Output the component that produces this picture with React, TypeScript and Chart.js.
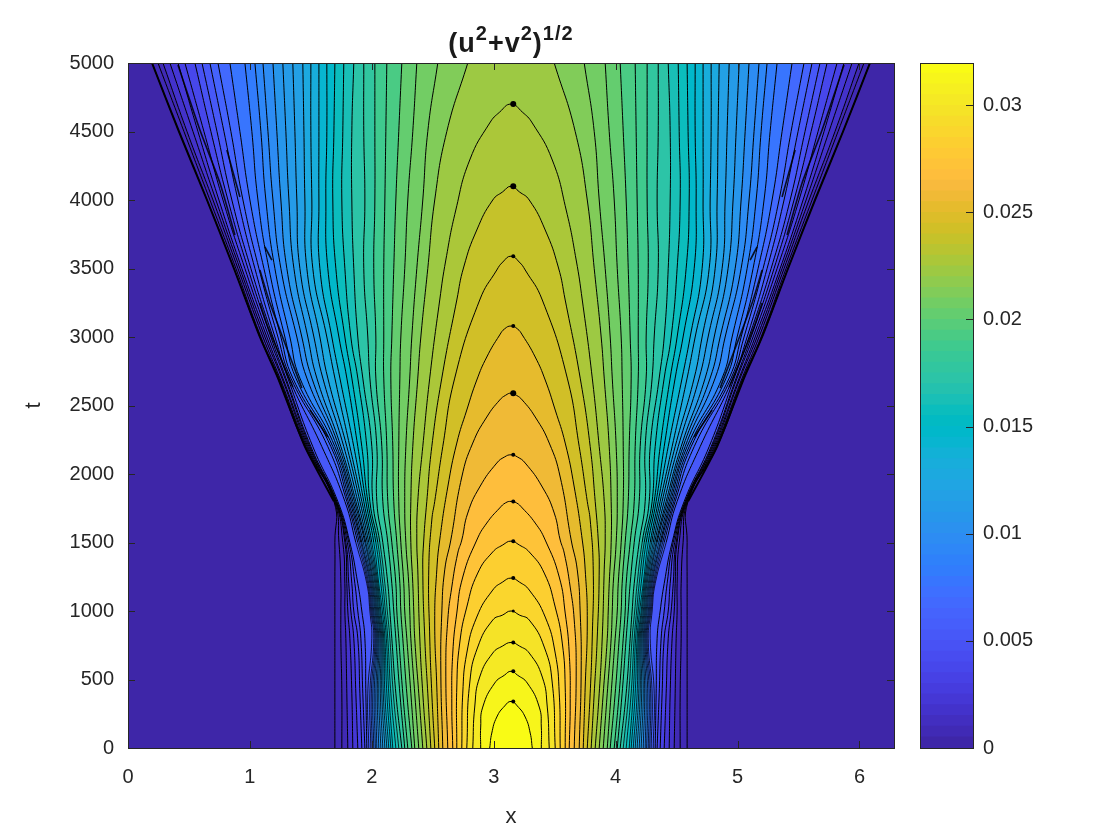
import React, { useEffect, useRef } from "react";
import { Chart, registerables } from "chart.js";

Chart.register(...registerables);

const FONT = '"Liberation Sans", Arial, sans-serif';
const INK = "#262626";
const X_MAX = 6.2832;
const T_MAX = 5000;
const C_MAX = 0.03196;

// Parula, 64 steps (value range of the colour bar)
const parula = [
  [62,38,168],[64,42,181],[66,46,192],[67,50,203],[69,55,213],[70,60,222],[71,65,229],[71,71,235],
  [72,76,240],[72,82,244],[71,88,248],[70,94,251],[69,99,253],[66,105,254],[62,111,255],[56,117,254],
  [50,124,252],[47,129,250],[46,135,247],[45,140,243],[43,145,239],[39,150,235],[37,155,232],[35,160,229],
  [32,165,227],[28,169,223],[24,173,219],[18,177,214],[8,181,208],[1,184,202],[2,186,195],[11,189,189],
  [25,191,182],[36,193,174],[44,196,167],[49,198,159],[55,200,151],[63,202,142],[74,203,132],[87,204,122],
  [100,205,111],[114,205,100],[129,204,89],[143,203,78],[157,201,67],[171,199,57],[185,196,49],[197,194,42],
  [209,191,39],[220,189,41],[230,187,45],[240,186,54],[248,186,61],[254,190,60],[254,195,56],[254,201,52],
  [252,207,48],[250,214,45],[247,220,42],[245,227,39],[245,233,36],[246,239,32],[247,245,27],[249,251,21],
];

// Left crossing x of contour levels 1..31 at fixed times
const rowTimes = [0, 400, 800, 1000, 1200, 1500, 1800, 2200, 2700, 3000, 3500, 4000, 4500, 5000];
const xAt0000 = [1.697,1.754,1.803,1.844,1.885,1.918,1.943,1.959,1.975,1.992,2.004,2.016,2.029,2.041,2.057,2.074,2.090,2.107,2.123,2.139,2.156,2.172,2.197,2.221,2.246,2.270,2.295,2.328,2.352,2.385,2.418];
const xAt0400 = [1.697,1.754,1.795,1.836,1.869,1.902,1.926,1.951,1.967,1.984,1.996,2.008,2.020,2.033,2.045,2.057,2.070,2.082,2.094,2.107,2.123,2.139,2.156,2.176,2.197,2.230,2.254,2.287,2.320,2.352,2.385];
const xAt0800 = [1.697,1.746,1.787,1.820,1.852,1.885,1.910,1.943,2.000,2.016,2.025,2.033,2.041,2.049,2.057,2.066,2.074,2.082,2.090,2.098,2.107,2.119,2.131,2.148,2.164,2.197,2.221,2.254,2.287,2.320,2.352];
const xAt1000 = [1.697,1.746,1.779,1.803,1.828,1.852,1.885,1.918,1.984,1.992,2.000,2.008,2.016,2.025,2.033,2.041,2.049,2.057,2.066,2.074,2.086,2.098,2.111,2.127,2.148,2.180,2.205,2.238,2.270,2.311,2.344];
const xAt1200 = [1.697,1.746,1.779,1.795,1.811,1.836,1.861,1.885,1.959,1.967,1.975,1.984,1.992,2.000,2.008,2.016,2.025,2.033,2.041,2.049,2.057,2.074,2.090,2.107,2.131,2.164,2.197,2.230,2.262,2.303,2.336];
const xAt1500 = [1.697,1.730,1.762,1.779,1.787,1.799,1.811,1.820,1.869,1.885,1.898,1.910,1.918,1.930,1.943,1.951,1.963,1.975,1.988,2.000,2.016,2.033,2.049,2.066,2.090,2.131,2.164,2.205,2.238,2.279,2.320];
const xAt1800 = [1.689,1.693,1.697,1.701,1.705,1.709,1.713,1.721,1.779,1.795,1.807,1.820,1.832,1.844,1.857,1.869,1.885,1.902,1.918,1.934,1.951,1.967,1.984,2.008,2.041,2.090,2.131,2.180,2.221,2.270,2.320];
const xAt2200 = [1.451,1.459,1.467,1.475,1.484,1.492,1.500,1.516,1.590,1.639,1.664,1.680,1.697,1.713,1.730,1.746,1.770,1.795,1.820,1.852,1.885,1.918,1.959,2.000,2.041,2.082,2.123,2.172,2.221,2.279,2.336];
const xAt2700 = [1.230,1.238,1.246,1.262,1.270,1.287,1.295,1.311,1.320,1.336,1.352,1.377,1.410,1.467,1.508,1.549,1.598,1.639,1.697,1.738,1.795,1.836,1.885,1.926,1.984,2.033,2.098,2.156,2.230,2.311,2.377];
const xAt3000 = [1.082,1.090,1.107,1.123,1.139,1.156,1.172,1.189,1.205,1.230,1.254,1.287,1.328,1.385,1.426,1.475,1.525,1.574,1.631,1.672,1.730,1.779,1.828,1.885,1.967,2.033,2.098,2.164,2.238,2.328,2.402];
const xAt3500 = [0.869,0.885,0.902,0.918,0.934,0.959,0.984,1.008,1.041,1.074,1.115,1.156,1.205,1.254,1.303,1.361,1.410,1.467,1.516,1.574,1.639,1.705,1.779,1.852,1.934,2.016,2.098,2.180,2.270,2.369,2.459];
const xAt4000 = [0.648,0.672,0.697,0.721,0.746,0.779,0.820,0.852,0.902,0.943,1.000,1.066,1.131,1.189,1.254,1.320,1.385,1.451,1.508,1.566,1.623,1.680,1.754,1.836,1.943,2.025,2.107,2.197,2.295,2.418,2.516];
const xAt4500 = [0.418,0.459,0.484,0.533,0.574,0.623,0.680,0.730,0.787,0.844,0.918,1.016,1.090,1.148,1.221,1.295,1.369,1.443,1.500,1.566,1.631,1.689,1.762,1.836,1.934,2.025,2.115,2.221,2.336,2.459,2.615];
const xAt5000 = [0.197,0.246,0.287,0.344,0.410,0.467,0.549,0.607,0.672,0.738,0.836,0.959,1.041,1.107,1.189,1.270,1.352,1.434,1.500,1.566,1.631,1.697,1.770,1.852,1.934,2.025,2.123,2.246,2.369,2.541,2.787];
const rows = [xAt0000, xAt0400, xAt0800, xAt1000, xAt1200, xAt1500, xAt1800, xAt2200, xAt2700, xAt3000, xAt3500, xAt4000, xAt4500, xAt5000];

// Closed contours (levels 32..44): left branch from t = 0 up to the crest
const arch32T = [0,400,810,1300,1518,1800,2200,2700,3270,3562,3927,4292,4562,4642,4700];
const arch32X = [2.451,2.418,2.393,2.377,2.369,2.377,2.418,2.475,2.557,2.607,2.689,2.803,2.967,3.049,3.142];
const arch33T = [0,400,810,1300,1518,1800,2200,2700,3270,3511,3781,4000,4060,4100];
const arch33X = [2.484,2.459,2.434,2.418,2.426,2.451,2.492,2.574,2.697,2.754,2.861,2.992,3.074,3.142];
const arch34T = [0,400,810,1300,1664,1800,2200,2700,3270,3489,3547,3590];
const arch34X = [2.516,2.492,2.475,2.467,2.492,2.516,2.582,2.680,2.885,3.025,3.074,3.142];
const arch35T = [0,445,934,1300,1518,1905,2226,2467,2686,2854,3015,3060,3080];
const arch35X = [2.549,2.533,2.516,2.533,2.557,2.623,2.697,2.779,2.861,2.943,3.049,3.090,3.142];
const arch36T = [0,569,985,1300,1518,1978,2226,2416,2540,2575,2590];
const arch36X = [2.582,2.566,2.574,2.598,2.648,2.738,2.828,2.943,3.049,3.098,3.142];
const arch37T = [0,569,934,1175,1423,1518,1715,1905,2080,2125,2140];
const arch37X = [2.623,2.607,2.623,2.656,2.705,2.738,2.787,2.885,3.025,3.090,3.142];
const arch38T = [0,328,693,985,1248,1518,1642,1752,1790,1800];
const arch38X = [2.664,2.656,2.664,2.697,2.746,2.861,2.943,3.049,3.098,3.142];
const arch39T = [0,445,766,1029,1277,1431,1482,1510];
const arch39X = [2.697,2.697,2.721,2.779,2.869,2.992,3.074,3.142];
const arch40T = [0,401,693,956,1153,1212,1240];
const arch40X = [2.738,2.746,2.779,2.861,2.992,3.074,3.142];
const arch41T = [0,474,737,934,971,1000];
const arch41X = [2.779,2.803,2.869,2.992,3.074,3.142];
const arch42T = [0,299,518,693,745,770];
const arch42X = [2.828,2.844,2.885,2.992,3.074,3.142];
const arch43T = [0,153,299,474,533,560];
const arch43X = [2.893,2.893,2.910,3.008,3.090,3.142];
const arch44T = [0,109,226,307,340];
const arch44X = [2.967,2.984,3.025,3.090,3.142];
const archTs = [arch32T, arch33T, arch34T, arch35T, arch36T, arch37T, arch38T, arch39T, arch40T, arch41T, arch42T, arch43T, arch44T];
const archXs = [arch32X, arch33X, arch34X, arch35X, arch36X, arch37X, arch38X, arch39X, arch40X, arch41X, arch42X, arch43X, arch44X];

const crestTimes = [4700, 4100, 3590, 3080, 2590, 2140, 1800, 1510, 1240, 1000, 770, 560, 340];
const crestDotSizes = [3, 3, 2, 2, 3, 2, 2, 2, 2, 1.5, 2, 2, 2];

// Short noisy contour fragments next to the front (left side, mirrored on the right)
const streak1T = [3657, 3562];
const streak1X = [1.123, 1.180];
const streak2T = [3489, 3248, 2628];
const streak2X = [1.082, 1.164, 1.426];
const streak3T = [3248, 3073, 2635];
const streak3X = [1.082, 1.148, 1.352];
const streak4T = [2467, 2270];
const streak4X = [1.492, 1.639];
const streak5T = [4985, 4511, 4124, 3745];
const streak5X = [0.410, 0.590, 0.754, 0.877];
const streak6T = [4365, 4022];
const streak6X = [0.811, 0.918];
const streakTs = [streak1T, streak2T, streak3T, streak4T, streak5T, streak6T];
const streakXs = [streak1X, streak2X, streak3X, streak4X, streak5X, streak6X];

const CENTER = 3.1416;
const LEVELS = 44;

type Pt = { x: number; y: number };

function leftBranch(level: number): Pt[] {
  if (level <= 31) return rowTimes.map((t, r) => ({ x: rows[r][level - 1], y: t }));
  const i = level - 32;
  return archTs[i].map((t, j) => ({ x: archXs[i][j], y: t }));
}

const mirror = (pts: Pt[]) => pts.map((p) => ({ x: 2 * CENTER - p.x, y: p.y })).reverse();

function buildDatasets() {
  const ds: any[] = [];
  ds.push({
    data: [{ x: 0, y: 0 }, { x: 0, y: T_MAX }, { x: X_MAX, y: T_MAX }, { x: X_MAX, y: 0 }],
    backgroundColor: `rgb(${parula[0].join(",")})`,
    borderWidth: 0, fill: "shape", pointRadius: 0, tension: 0, order: 1000,
  });
  for (let k = 1; k <= LEVELS; k++) {
    const left = leftBranch(k);
    const closed = k > 31;
    const rightPts = mirror(closed ? left.slice(0, -1) : left);
    const idx = Math.max(1, Math.round(((k - 1) * 63) / (LEVELS - 1)));
    // Repeating the two corner vertices keeps the spline from bulging across the top edge
    const corners = closed ? [] : [left[left.length - 1], rightPts[0]];
    ds.push({
      data: [...left, ...corners, ...rightPts],
      backgroundColor: `rgb(${parula[idx].join(",")})`,
      borderWidth: 0, fill: "shape", pointRadius: 0, tension: 0.5, order: 1000 - k,
    });
    const gap = closed ? [] : [{ x: NaN, y: NaN }];
    const thinInDenseBand = k >= 9 && k <= 24;
    ds.push({
      data: [...left, ...gap, ...rightPts],
      borderColor: "#000000", borderWidth: 1, fill: false, pointRadius: 0, tension: 0.5, order: 100 - k,
      segment: thinInDenseBand
        ? { borderWidth: (c: any) => (c.p0.parsed.y < 1600 && c.p1.parsed.y < 1600 ? 0.8 : 1) }
        : undefined,
    });
  }
  // The heavy front, which is the lowest contour above the kink
  const front = leftBranch(1).filter((p) => p.y >= 1800);
  ds.push({
    data: [...front, { x: NaN, y: NaN }, ...mirror(front)],
    borderColor: "#000000", borderWidth: 2, fill: false, pointRadius: 0, tension: 0.2, order: -50,
  });
  streakTs.forEach((ts, i) => {
    const s = ts.map((t, j) => ({ x: streakXs[i][j], y: t }));
    ds.push({
      data: [...s, { x: NaN, y: NaN }, ...mirror(s)],
      borderColor: "rgba(0,0,0,0.85)", borderWidth: 1.6, fill: false, pointRadius: 0, tension: 0.2, order: -50,
    });
  });
  ds.push({
    data: crestTimes.map((t) => ({ x: 3.16, y: t })),
    showLine: false, pointRadius: crestDotSizes, pointBackgroundColor: "#000", pointBorderWidth: 0, order: -100,
  });
  return ds;
}

const framePlugin = {
  id: "frame",
  afterDatasetsDraw(chart: any, _a: any, opts: any) {
    const { ctx, chartArea: a, scales } = chart;
    ctx.save();
    ctx.strokeStyle = INK;
    ctx.lineWidth = 1;
    const L = 7;
    const line = (x1: number, y1: number, x2: number, y2: number) => {
      ctx.beginPath();
      ctx.moveTo(x1, y1);
      ctx.lineTo(x2, y2);
      ctx.stroke();
    };
    if (opts.xTicks) {
      for (const t of scales.x.ticks) {
        const px = Math.round(scales.x.getPixelForValue(t.value)) + 0.5;
        line(px, a.bottom, px, a.bottom - L);
        line(px, a.top, px, a.top + L);
      }
    }
    for (const t of scales.y.ticks) {
      const py = Math.round(scales.y.getPixelForValue(t.value)) + 0.5;
      if (opts.leftTicks) line(a.left, py, a.left + L, py);
      line(a.right, py, a.right - L, py);
    }
    ctx.strokeRect(Math.round(a.left) + 0.5, Math.round(a.top) + 0.5, Math.round(a.width), Math.round(a.height));
    ctx.restore();
  },
};

export default function App() {
  const mainRef = useRef<HTMLCanvasElement>(null);
  const barRef = useRef<HTMLCanvasElement>(null);

  useEffect(() => {
    const main = new Chart(mainRef.current!, {
      type: "line",
      data: { datasets: buildDatasets() },
      plugins: [framePlugin],
      options: {
        animation: false,
        responsive: false,
        devicePixelRatio: 1,
        events: [],
        layout: { padding: { top: 63, right: 226, left: 0, bottom: 0 } },
        plugins: { legend: { display: false }, tooltip: { enabled: false }, frame: { xTicks: true, leftTicks: true } } as any,
        scales: {
          x: {
            type: "linear", min: 0, max: X_MAX,
            grid: { display: false }, border: { display: false },
            ticks: { stepSize: 1, includeBounds: false, color: INK, font: { family: FONT, size: 20 }, padding: 9, maxRotation: 0, callback: (v: any) => String(v) },
            title: { display: true, text: "x", color: INK, font: { family: FONT, size: 22 }, padding: { top: 8, bottom: 10 } },
            afterFit: (s: any) => { s.height = 92; },
          },
          y: {
            type: "linear", min: 0, max: T_MAX,
            grid: { display: false }, border: { display: false },
            ticks: { stepSize: 500, includeBounds: false, color: INK, font: { family: FONT, size: 20 }, padding: 6, callback: (v: any) => String(v) },
            title: { display: true, text: "t", color: INK, font: { family: FONT, size: 22 }, padding: { top: 21, bottom: 8 } },
            afterFit: (s: any) => { s.width = 128; },
          },
        },
      },
    } as any);

    const bandHeight = C_MAX / parula.length;
    const bar = new Chart(barRef.current!, {
      type: "bar",
      data: {
        labels: ["c"],
        datasets: parula.map((c, i) => ({
          data: [[i * bandHeight, (i + 1) * bandHeight + bandHeight * 0.05]],
          backgroundColor: `rgb(${c.join(",")})`,
          borderWidth: 0,
          grouped: false,
          barPercentage: 1,
          categoryPercentage: 1,
        })),
      },
      plugins: [framePlugin],
      options: {
        animation: false,
        responsive: false,
        devicePixelRatio: 1,
        events: [],
        layout: { padding: { top: 63, bottom: 92, left: 20, right: 0 } },
        plugins: { legend: { display: false }, tooltip: { enabled: false }, frame: { xTicks: false, leftTicks: false } } as any,
        scales: {
          x: { display: false },
          y: {
            position: "right", min: 0, max: C_MAX,
            grid: { display: false }, border: { display: false },
            ticks: {
              stepSize: 0.005, includeBounds: false, color: INK, font: { family: FONT, size: 20 }, padding: 2,
              callback: (v: any) => String(Math.round(v * 1000) / 1000),
            },
            afterFit: (s: any) => { s.width = 147; },
          },
        },
      },
    } as any);

    return () => {
      main.destroy();
      bar.destroy();
    };
  }, []);

  const supStyle: React.CSSProperties = { fontSize: 20, lineHeight: 0, verticalAlign: 12 };
  return (
    <div style={{ position: "absolute", left: 0, top: 0, width: 1120, height: 840, background: "#fff", overflow: "hidden" }}>
      <canvas ref={mainRef} width={1120} height={840} style={{ position: "absolute", left: 0, top: 0 }} />
      <canvas ref={barRef} width={220} height={840} style={{ position: "absolute", left: 900, top: 0 }} />
      <div style={{ position: "absolute", left: 311, width: 400, top: 29, textAlign: "center", fontFamily: FONT, fontWeight: "bold", fontSize: 27, letterSpacing: 1, color: "#1a1a1a", lineHeight: "28px", whiteSpace: "nowrap" }}>
        (u<span style={supStyle}>2</span>+v<span style={supStyle}>2</span>)<span style={supStyle}>1/2</span>
      </div>
    </div>
  );
}
